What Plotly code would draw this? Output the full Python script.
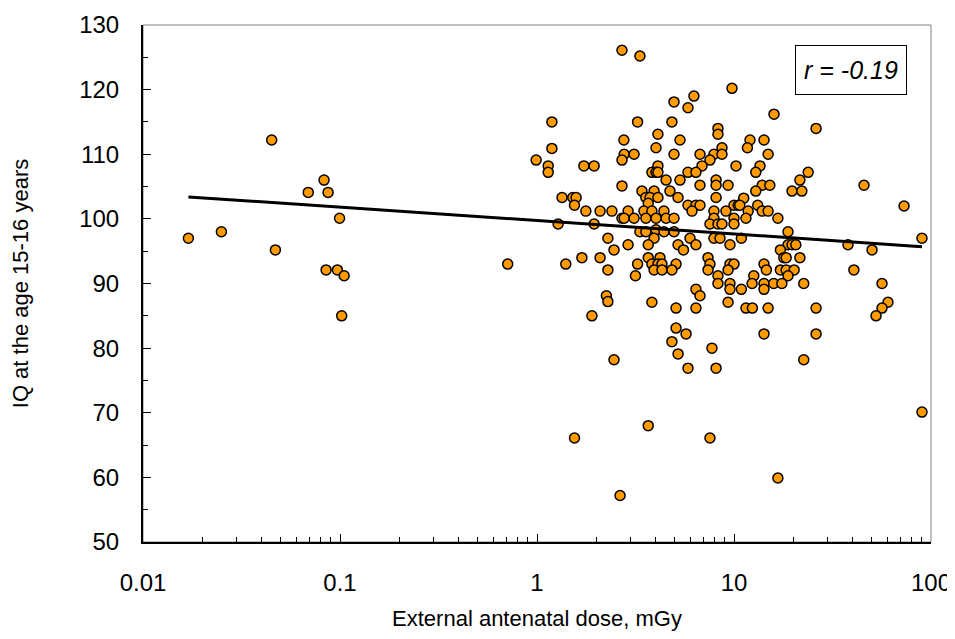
import plotly.graph_objects as go

# Children with low external antenatal dose (< 1 mGy)
low_dose = [0.017, 0.025, 0.045, 0.047, 0.069, 0.083, 0.087, 0.0995, 0.085, 0.097,
            0.105, 0.102, 0.71]
low_iq = [97.0, 98.0, 112.2, 95.2, 104.1, 106.0, 104.1, 100.1, 92.1, 92.1,
          91.2, 85.0, 93.0]

# Children with dose >= 1 mGy
high_dose = [
    2.70, 3.33,
    9.77, 4.96, 6.26, 5.84, 15.96,
    1.19, 3.24, 4.84, 26.1, 8.29, 8.29, 4.11,
    2.76, 5.32, 12.06, 14.2,
    1.19, 4.02, 8.69, 11.7,
    2.77, 3.11, 4.96, 6.72, 7.91, 8.69, 14.9,
    2.70, 0.99, 7.55,
    1.14, 1.73, 1.95, 4.11, 6.88, 10.24, 13.55,
    1.14, 3.83, 4.02, 4.11, 5.84, 6.41, 12.9, 23.8,
    4.52, 5.32, 8.11, 21.6,
    2.70, 6.72, 8.11, 9.33, 13.9, 15.2, 45.7,
    3.41, 3.93, 4.73, 12.9, 19.7, 22.1,
    1.34, 1.52, 1.58, 3.57, 3.75, 4.11, 5.20, 8.11, 11.2,
    1.55, 5.84, 6.41, 6.72, 10.0, 10.5, 10.7, 13.2, 73.0, 3.67,
    1.77, 2.09, 2.40, 2.90, 3.49, 3.83, 4.41, 6.12, 7.91, 9.10, 11.8, 13.9, 14.9,
    2.70, 2.77, 3.11, 3.57, 4.52, 4.96, 10.0, 11.5, 16.7, 4.02, 7.91,
    1.28, 1.95, 7.55, 8.29, 8.69, 10.0,
    18.8, 3.33, 3.57, 4.02, 4.41, 4.96,
    2.29, 3.93, 5.98, 7.91, 8.49, 10.9, 90.0,
    18.8, 19.7, 20.6, 37.9, 2.90, 3.67, 5.20, 6.41, 9.54,
    2.46, 5.54, 17.2, 50.2,
    17.9, 18.4, 1.69, 2.09, 3.67, 4.21, 7.38, 21.6,
    1.40, 3.24, 3.83, 4.11, 4.31, 5.08, 7.55, 9.54, 10.0, 14.2,
    2.29, 3.93, 4.31, 4.84, 7.38, 9.33, 14.6, 17.2, 18.4, 20.2, 40.6,
    3.16, 8.29, 12.6, 18.8,
    8.29, 9.54, 12.35, 14.2, 15.9, 17.5, 22.6, 56.4,
    9.54, 10.9, 14.2, 6.41,
    6.72, 2.25,
    2.29, 3.83, 9.33, 60.5,
    5.08, 6.41, 11.5, 12.4, 14.9, 26.1, 56.4,
    1.90, 52.6,
    5.08, 5.71, 14.2, 26.1,
    4.84, 7.73, 5.20,
    2.46, 22.6,
    5.84, 8.11,
    90.0, 1.55, 3.67, 7.55, 16.7, 2.64,
]
high_iq = [
    126.1, 125.2,
    120.2, 118.1, 119.0, 117.2, 116.2,
    115.0, 115.0, 115.0, 114.0, 114.0, 113.1, 113.1,
    112.2, 112.2, 112.2, 112.2,
    110.9, 111.0, 111.0, 111.0,
    110.0, 110.0, 110.0, 110.0, 110.0, 110.0, 110.0,
    109.1, 109.1, 109.1,
    108.2, 108.2, 108.2, 108.2, 108.2, 108.2, 108.2,
    107.2, 107.2, 107.2, 107.2, 107.2, 107.2, 107.2, 107.2,
    106.0, 106.0, 106.0, 106.0,
    105.1, 105.2, 105.2, 105.2, 105.2, 105.2, 105.2,
    104.3, 104.3, 104.3, 104.3, 104.3, 104.3,
    103.3, 103.3, 103.3, 103.3, 103.3, 103.3, 103.3, 103.3, 103.2,
    102.1, 102.1, 102.1, 102.1, 102.1, 102.1, 102.1, 102.1, 102.0, 102.4,
    101.2, 101.2, 101.2, 101.2, 101.2, 101.2, 101.2, 101.2, 101.2, 101.2, 101.2, 101.2, 101.2,
    100.1, 100.1, 100.1, 100.1, 100.1, 100.1, 100.1, 100.1, 100.1, 100.1, 100.1,
    99.2, 99.2, 99.2, 99.2, 99.2, 99.2,
    98.0, 98.0, 98.0, 98.3, 98.0, 98.0,
    97.0, 97.0, 97.0, 97.0, 97.0, 97.0, 97.0,
    96.0, 96.0, 96.0, 96.0, 96.0, 96.0, 96.0, 96.0, 96.0,
    95.2, 95.2, 95.2, 95.2,
    94.0, 94.0, 94.0, 94.0, 94.0, 94.0, 94.0, 94.0,
    93.0, 93.0, 93.0, 93.0, 93.0, 93.0, 93.0, 93.0, 93.0, 93.0,
    92.1, 92.1, 92.1, 92.1, 92.1, 92.1, 92.1, 92.1, 92.1, 92.1, 92.1,
    91.2, 91.2, 91.2, 91.2,
    90.0, 90.0, 90.0, 90.0, 90.0, 90.0, 90.0, 90.0,
    89.1, 89.1, 89.1, 89.1,
    88.1, 88.1,
    87.2, 87.1, 87.1, 87.1,
    86.2, 86.2, 86.2, 86.2, 86.2, 86.2, 86.2,
    85.0, 85.0,
    83.1, 82.2, 82.2, 82.2,
    81.0, 80.0, 79.1,
    78.2, 78.2,
    76.9, 76.9,
    70.1, 66.1, 68.0, 66.1, 59.9, 57.2,
]

# Regression line end points
trend_dose = [0.017, 90.0]
trend_iq = [103.4, 95.7]

r_label = "r = -0.19"

x_tickvals = [0.01, 0.1, 1, 10, 100]
x_ticktext = ["0.01", "0.1", "1", "10", "100"]
x_minor = [m * 10 ** e for e in range(-2, 2) for m in range(2, 10)]

font_family = "Liberation Sans, Arial, sans-serif"

fig = go.Figure()

fig.add_trace(go.Scatter(
    x=low_dose + high_dose,
    y=low_iq + high_iq,
    mode="markers",
    marker=dict(size=10, color="#FF9A00", line=dict(color="black", width=1.5)),
    showlegend=False,
))

fig.add_trace(go.Scatter(
    x=trend_dose,
    y=trend_iq,
    mode="lines",
    line=dict(color="black", width=3),
    showlegend=False,
))

# thin grey frame on top / right
fig.add_shape(type="rect", xref="paper", yref="paper", x0=0, y0=0, x1=1, y1=1,
              line=dict(color="#808080", width=1), layer="below")

fig.add_annotation(
    x=0.9695, y=0.961, xref="paper", yref="paper", xanchor="right", yanchor="top",
    text="<i>" + r_label + "</i>", showarrow=False, height=32, valign="middle",
    font=dict(size=25, color="black", family=font_family),
    bordercolor="black", borderwidth=1, borderpad=8, bgcolor="white",
)

fig.update_xaxes(
    type="log", range=[-2, 2], automargin=False,
    tickmode="array", tickvals=x_tickvals, ticktext=x_ticktext,
    ticks="inside", ticklen=8, tickwidth=1, tickcolor="black",
    minor=dict(tickmode="array", tickvals=x_minor, ticks="inside", ticklen=5,
               tickwidth=1, tickcolor="black", showgrid=False),
    showline=True, linecolor="black", linewidth=2,
    showgrid=False, zeroline=False,
    tickfont=dict(size=24, color="black", family=font_family),
    ticklabelstandoff=18,
    title=dict(text="External antenatal dose, mGy", standoff=16,
               font=dict(size=22, color="black", family=font_family)),
)

fig.update_yaxes(
    range=[50, 130], dtick=10, automargin=False,
    ticks="inside", ticklen=8, tickwidth=1, tickcolor="black",
    minor=dict(dtick=5, ticks="inside", ticklen=5, tickwidth=1,
               tickcolor="black", showgrid=False),
    showline=True, linecolor="black", linewidth=2,
    showgrid=False, zeroline=False,
    tickfont=dict(size=24, color="black", family=font_family),
    ticklabelstandoff=17,
    title=dict(text="IQ at the age 15-16 years", standoff=46,
               font=dict(size=22, color="black", family=font_family)),
)

# the page body adds an 8px margin all round; keep the page within 955x639
# so no scrollbar appears
fig.update_layout(
    width=947, height=623,
    margin=dict(l=135, r=24, t=17, b=89),
    plot_bgcolor="white", paper_bgcolor="white",
)

fig.write_html("out.html")
